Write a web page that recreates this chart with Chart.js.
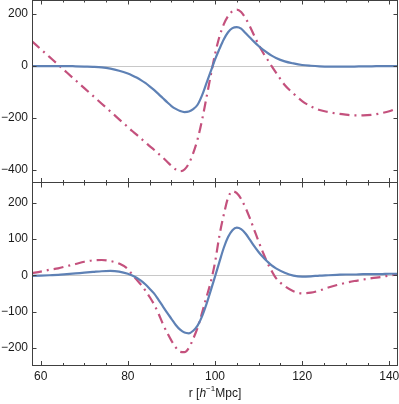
<!DOCTYPE html>
<html>
<head>
<meta charset="utf-8">
<script src="https://cdn.jsdelivr.net/npm/chart.js@4.4.0/dist/chart.umd.min.js"></script>
<style>
  body { margin: 0; background: #fff; }
  #wrap { position: relative; width: 399px; height: 404px; }
  #wrap canvas { position: absolute; left: 0; }
  #xtitle {
    position: absolute; left: 32px; width: 366px; top: 386px;
    text-align: center; font: 12px "Liberation Sans", Arial, sans-serif; color: #1a1a1a;
    line-height: 14px;
  }
  #xtitle sup { font-size: 8px; position: relative; top: -1px; vertical-align: top; line-height: 8px; }
</style>
</head>
<body>
<div id="wrap">
  <canvas id="topChart" width="399" height="183" style="top:0;width:399px;height:183px"></canvas>
  <canvas id="bottomChart" width="399" height="221" style="top:183px;width:399px;height:221px"></canvas>
  <div id="xtitle">r [<i>h</i><sup>−1</sup>Mpc]</div>
</div>
<script>
// separation r (h^-1 Mpc) where the curves are sampled
const rValues = [58, 60, 62, 64, 66, 68, 70, 72, 74, 76, 78,
  80, 81, 82, 83, 84, 85, 86, 87, 88, 89, 90, 91, 92, 93, 94, 95, 96, 97,
  98, 99, 100, 101, 102, 103, 104, 105, 106, 107, 108, 109, 110, 111, 112, 113, 114,
  116, 118, 120, 122, 124, 126, 128, 130, 132, 134, 136, 138, 140, 142];

// top panel
const topSolid = [0, 0, 0, 0, 0, -1, -2, -3, -5, -10, -18,
  -29, -36, -44, -54, -65, -78, -92, -107, -123, -139, -154, -165, -173, -177, -175, -166, -149, -114,
  -68, -22, 25, 65, 102, 130, 146, 150, 144, 127, 110, 93, 77, 63, 51, 40, 31,
  18, 10, 4, 1, -1, -2, -2, -2, -2, -1, -1, 0, 0, 0];
const topDashDot = [95, 65, 35, 5, -25, -55, -85, -115, -145, -175, -205,
  -235, -250, -264, -279, -293, -308, -322, -337, -352, -368, -384, -398, -405, -398, -375, -335, -282, -210,
  -125, -38, 45, 112, 160, 192, 211, 217, 208, 184, 153, 117, 82, 52, 26, 0, -25,
  -73, -106, -135, -155, -169, -177, -183, -187, -190, -190, -188, -182, -174, -162];

// bottom panel
const bottomSolid = [-2, -1, 0, 1, 3, 5, 7, 9, 11, 12, 10,
  4, -1, -7, -15, -25, -37, -50, -67, -85, -103, -120, -137, -150, -158, -160, -153, -139, -114,
  -81, -43, -4, 36, 75, 105, 124, 131, 127, 115, 98, 80, 64, 50, 38, 27, 19,
  7, -1, -4, -3, -1, 0, 1, 2, 2, 3, 3, 3, 4, 4];
const bottomDashDot = [6, 10, 15, 19, 25, 31, 37, 41, 42, 39, 32,
  17, 2, -12, -26, -42, -60, -80, -105, -133, -158, -180, -199, -211, -212, -200, -175, -145, -105,
  -62, -20, 35, 108, 166, 213, 231, 226, 210, 186, 157, 125, 93, 63, 35, 12, -8,
  -30, -44, -50, -48, -42, -34, -27, -21, -16, -12, -8, -5, -1, 3];

// tick positions
const xTickValues = [60, 65, 70, 75, 80, 85, 90, 95, 100, 105, 110, 115, 120, 125, 130, 135, 140];
const xLabelTicks = [60, 80, 100, 120, 140];
const topYTicks = [-400, -200, 0, 200];
const bottomYTicks = [-200, -100, 0, 100, 200];

Chart.defaults.font.family = '"Liberation Sans", Arial, sans-serif';
Chart.defaults.font.size = 12;
Chart.defaults.color = '#1a1a1a';

const BLUE = '#5E81B5';
const RED = '#C4517D';

// Mathematica-style frame with inward ticks on every side
const framePlugin = {
  id: 'frame',
  afterDraw(chart, args, opts) {
    const { ctx, chartArea: a } = chart;
    const xs = chart.scales.x, ys = chart.scales.y;
    const L = Math.round(a.left) + 0.5, R = Math.round(a.right) - 0.5;
    const T = Math.round(a.top) + 0.5, B = Math.round(a.bottom) - 0.5;
    ctx.save();
    ctx.strokeStyle = '#404040';
    ctx.lineWidth = 1;
    ctx.beginPath();
    if (opts.top) { ctx.moveTo(L, T); ctx.lineTo(R, T); }
    ctx.moveTo(L, a.top); ctx.lineTo(L, B);
    ctx.moveTo(R, a.top); ctx.lineTo(R, B);
    ctx.moveTo(a.left, B); ctx.lineTo(a.right, B);
    xs.ticks.forEach(t => {
      const px = Math.round(xs.getPixelForValue(t.value)) + 0.5;
      const len = xLabelTicks.includes(t.value) ? 4.5 : 2.5;
      ctx.moveTo(px, B); ctx.lineTo(px, B - len);
      ctx.moveTo(px, a.top); ctx.lineTo(px, a.top + len);
    });
    ys.ticks.forEach(t => {
      const py = Math.round(ys.getPixelForValue(t.value)) + 0.5;
      ctx.moveTo(L, py); ctx.lineTo(L + 4, py);
      ctx.moveTo(R, py); ctx.lineTo(R - 4, py);
    });
    ctx.stroke();
    ctx.restore();
  }
};

function makeDatasets(solid, dashDot) {
  return [
    {
      label: 'solid',
      data: rValues.map((r, i) => ({ x: r, y: solid[i] })),
      borderColor: BLUE,
      borderWidth: 2.2,
      order: 0
    },
    {
      label: 'dash-dot',
      data: rValues.map((r, i) => ({ x: r, y: dashDot[i] })),
      borderColor: RED,
      borderWidth: 2.2,
      borderDash: [10, 5, 2, 5],
      order: 1
    }
  ];
}

function makeOptions(yMin, yMax, yTicks, showX, drawTop) {
  return {
    responsive: false,
    animation: false,
    layout: { padding: { top: 0, right: 1, bottom: 0, left: 0 } },
    elements: {
      point: { radius: 0 },
      line: { cubicInterpolationMode: 'monotone', fill: false }
    },
    plugins: {
      legend: { display: false },
      tooltip: { enabled: false },
      frame: { top: drawTop }
    },
    scales: {
      x: {
        type: 'linear',
        min: 58,
        max: 142,
        display: showX,
        grid: { display: false, drawTicks: false },
        border: { display: false },
        afterBuildTicks(s) {
          s.ticks = xTickValues.map(v => ({ value: v }));
        },
        ticks: {
          autoSkip: false,
          maxRotation: 0,
          padding: 3,
          callback: v => (xLabelTicks.includes(v) ? String(v) : '')
        },
        afterFit(s) {
          if (showX) s.height = 38;
          s.paddingLeft = 0;
          s.paddingRight = 0;
        }
      },
      y: {
        min: yMin,
        max: yMax,
        border: { display: false },
        grid: {
          drawTicks: false,
          lineWidth: 1,
          color: c => (c.tick && c.tick.value === 0 ? '#c8c8c8' : 'rgba(0,0,0,0)')
        },
        afterBuildTicks(s) {
          s.ticks = yTicks.map(v => ({ value: v }));
        },
        ticks: {
          padding: 4,
          autoSkip: false,
          callback: v => (v < 0 ? '\u2212' + Math.abs(v) : String(v))
        },
        afterFit(s) {
          s.width = 32;
          s.paddingTop = 0;
          s.paddingBottom = 0;
        }
      }
    }
  };
}

new Chart(document.getElementById('topChart'), {
  type: 'line',
  data: { datasets: makeDatasets(topSolid, topDashDot) },
  options: makeOptions(-450, 254, topYTicks, false, true),
  plugins: [framePlugin]
});

new Chart(document.getElementById('bottomChart'), {
  type: 'line',
  data: { datasets: makeDatasets(bottomSolid, bottomDashDot) },
  options: makeOptions(-250, 254, bottomYTicks, true, false),
  plugins: [framePlugin]
});
</script>
</body>
</html>
